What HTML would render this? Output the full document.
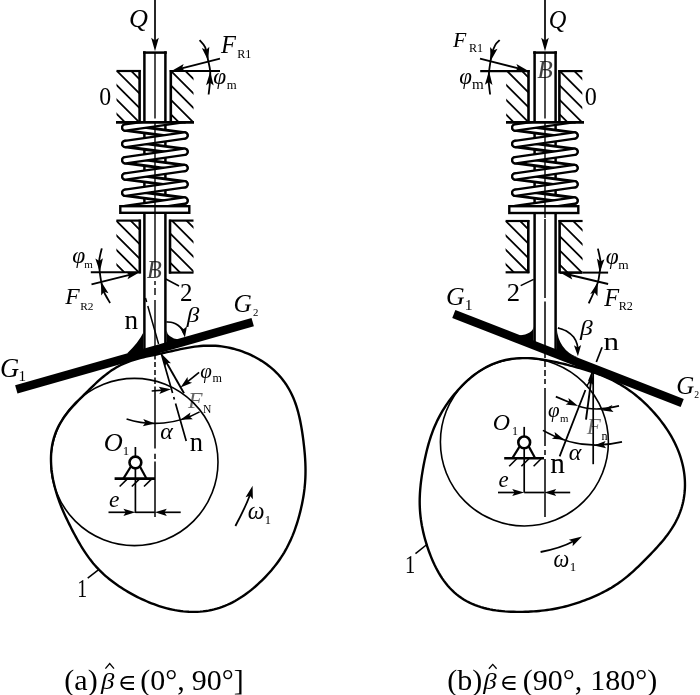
<!DOCTYPE html>
<html><head><meta charset="utf-8"><style>
html,body{margin:0;padding:0;background:#fff;}
svg{display:block;filter:grayscale(1);}
text{font-family:"Liberation Serif",serif;fill:#000;stroke:none;}
</style></head><body>
<svg width="700" height="695" viewBox="0 0 700 695" stroke="#000" fill="none">
<rect x="0" y="0" width="700" height="695" fill="#fff" stroke="none"/>
<line x1="155" y1="0" x2="155" y2="44" stroke-width="1.7"/>
<polygon points="155,51.3 151.2,37.8 155,40.5 158.8,37.8" fill="#000" stroke="none"/>
<text x="128.96" y="27.3" font-size="26.22" font-style="italic">Q</text>
<line x1="144.4" y1="51.3" x2="144.4" y2="349" stroke-width="2.5"/>
<line x1="165.4" y1="51.3" x2="165.4" y2="345" stroke-width="2.5"/>
<line x1="143" y1="52.6" x2="166.8" y2="52.6" stroke-width="2.5"/>
<clipPath id="h1"><rect x="116.5" y="71" width="23.1" height="51"/></clipPath>
<path d="M68.7,66L129.7,127M83.1,66L144.1,127M97.5,66L158.5,127M111.9,66L172.9,127M126.3,66L187.3,127" stroke-width="1.8" clip-path="url(#h1)"/>
<clipPath id="h2"><rect x="170.8" y="71" width="22.7" height="51"/></clipPath>
<path d="M122.6,66L183.6,127M137.05,66L198.05,127M151.5,66L212.5,127M165.95,66L226.95,127M180.4,66L241.4,127" stroke-width="1.8" clip-path="url(#h2)"/>
<line x1="116.5" y1="71" x2="140.8" y2="71" stroke-width="2.2"/>
<line x1="139.6" y1="70" x2="139.6" y2="122" stroke-width="2.6"/>
<line x1="169.8" y1="71" x2="220" y2="71" stroke-width="2.2"/>
<line x1="170.8" y1="70" x2="170.8" y2="122" stroke-width="2.6"/>
<clipPath id="sp0"><rect x="110" y="123" width="90" height="82.5"/></clipPath>
<g clip-path="url(#sp0)">
<path d="M125.3,111.3L184.5,119.1M125.3,127.6L184.5,135.4M125.3,143.9L184.5,151.7M125.3,160.2L184.5,168M125.3,176.5L184.5,184.3M125.3,192.8L184.5,200.6" stroke-width="8.6" stroke-linecap="round"/>
<path d="M125.3,111.3L184.5,119.1M125.3,127.6L184.5,135.4M125.3,143.9L184.5,151.7M125.3,160.2L184.5,168M125.3,176.5L184.5,184.3M125.3,192.8L184.5,200.6" stroke="#fff" stroke-width="2.8" stroke-linecap="round"/>
<path d="M184.5,119.1L125.3,127.6M184.5,135.4L125.3,143.9M184.5,151.7L125.3,160.2M184.5,168L125.3,176.5M184.5,184.3L125.3,192.8M184.5,200.6L125.3,209.1" stroke-width="8.6" stroke-linecap="round"/>
<path d="M184.5,119.1L125.3,127.6M184.5,135.4L125.3,143.9M184.5,151.7L125.3,160.2M184.5,168L125.3,176.5M184.5,184.3L125.3,192.8M184.5,200.6L125.3,209.1" stroke="#fff" stroke-width="4.0" stroke-linecap="round"/>
</g>
<line x1="116" y1="122.3" x2="194" y2="122.3" stroke-width="2.8"/>
<rect x="120.3" y="206.2" width="69" height="6.6" stroke-width="2.4" fill="#fff"/>
<clipPath id="h3"><rect x="116.4" y="220.6" width="23.4" height="52"/></clipPath>
<path d="M67.6,215.6L129.6,277.6M82.1,215.6L144.1,277.6M96.6,215.6L158.6,277.6M111.1,215.6L173.1,277.6M125.6,215.6L187.6,277.6" stroke-width="1.8" clip-path="url(#h3)"/>
<clipPath id="h4"><rect x="170" y="220.6" width="23.5" height="52"/></clipPath>
<path d="M123.1,215.6L185.1,277.6M137.7,215.6L199.7,277.6M152.3,215.6L214.3,277.6M166.9,215.6L228.9,277.6M181.5,215.6L243.5,277.6" stroke-width="1.8" clip-path="url(#h4)"/>
<line x1="116.4" y1="220.6" x2="140.8" y2="220.6" stroke-width="2.2"/>
<line x1="139.8" y1="219.6" x2="139.8" y2="273.6" stroke-width="2.6"/>
<line x1="169" y1="220.6" x2="193.5" y2="220.6" stroke-width="2.2"/>
<line x1="170" y1="219.6" x2="170" y2="273.6" stroke-width="2.6"/>
<line x1="169" y1="272.6" x2="193.5" y2="272.6" stroke-width="2.2"/>
<line x1="155" y1="52" x2="155" y2="118.5" stroke-width="1.4"/>
<line x1="155" y1="123" x2="155" y2="218" stroke-width="1.4"/>
<line x1="155" y1="218" x2="155" y2="277" stroke-width="1.4"/>
<path d="M155,281V285M155,288V295M155,300V346" stroke-width="1.4"/>
<line x1="220" y1="58.7" x2="180.66" y2="68.68" stroke-width="1.9"/>
<polygon points="171.5,71 183.65,64 181.97,68.35 185.52,71.36" fill="#000" stroke="none"/>
<path d="M199.6,40.1 C200.52,41.27 203.68,43.75 205.1,47.1 C206.52,50.45 207.25,56.17 208.1,60.2 C208.95,64.23 209.88,67.67 210.2,71.3 C210.52,74.93 210.27,78.13 210,82 C209.73,85.87 208.83,92.42 208.6,94.5" stroke-width="1.8" fill="none"/>
<polygon points="208.1,60.6 201.85,48.05 206.08,49.99 209.31,46.63" fill="#000" stroke="none"/>
<polygon points="210.2,71.8 213.67,85.39 209.93,82.6 206.07,85.2" fill="#000" stroke="none"/>
<text x="221.12" y="53" font-size="24.43" font-style="italic">F</text>
<text x="237.14" y="58" font-size="12.12">R1</text>
<text x="213.3" y="83.98" font-size="23.36" font-style="italic">φ</text>
<text x="226.74" y="89" font-size="12.77">m</text>
<text transform="translate(99.35,104.55) scale(0.96,1)" font-size="24.89">0</text>
<line x1="90.8" y1="272.3" x2="139.7" y2="272.3" stroke-width="2"/>
<line x1="91.5" y1="284.3" x2="130.53" y2="274.58" stroke-width="1.9"/>
<polygon points="139.7,272.3 127.52,279.25 129.22,274.91 125.68,271.87" fill="#000" stroke="none"/>
<path d="M101.8,248.4 C101.37,250.43 99.53,256.65 99.2,260.6 C98.87,264.55 99.48,268.68 99.8,272.1 C100.12,275.52 100.63,278.37 101.1,281.1 C101.57,283.83 101.92,286.27 102.6,288.5 C103.28,290.73 103.95,292.08 105.2,294.5 C106.45,296.92 109.28,301.58 110.1,303" stroke-width="1.8" fill="none"/>
<polygon points="99.8,271.8 95.35,258.5 99.27,261.01 102.94,258.13" fill="#000" stroke="none"/>
<polygon points="101.1,281.4 108.49,293.32 104.09,291.78 101.19,295.42" fill="#000" stroke="none"/>
<text x="72.19" y="263.25" font-size="23.5" font-style="italic">φ</text>
<text x="84.18" y="268.3" font-size="11.06">m</text>
<text x="65.22" y="304.3" font-size="23.66" font-style="italic">F</text>
<text x="80.16" y="310" font-size="11.36">R2</text>
<g opacity="0.75">
<text x="146.75" y="277.88" font-size="24.7" font-style="italic">B</text>
</g>
<text transform="translate(179.88,300.5) scale(0.97,1)" font-size="25.76">2</text>
<line x1="165.8" y1="279" x2="179" y2="286" stroke-width="1.5"/>
<line x1="16.3" y1="389.3" x2="252.7" y2="322.1" stroke-width="8.6"/>
<path d="M143.2,332.8 Q139,342 127,353.5 L143.2,352 Z" stroke-width="0" fill="#000"/>
<path d="M166.4,330 Q167.5,338 179,339.6 L166.4,346 Z" stroke-width="0" fill="#000"/>
<text transform="translate(124.62,329.3) scale(1,1)" font-size="27.23">n</text>
<text transform="translate(186.78,322.33) scale(1.16,1)" font-size="21.74" font-style="italic">β</text>
<text x="233.6" y="311.75" font-size="25.37" font-style="italic">G</text>
<text x="253.12" y="316.4" font-size="10.76">2</text>
<text x="-0.06" y="376.83" font-size="26.57" font-style="italic">G</text>
<text x="18.44" y="380.7" font-size="15.15">1</text>
<path d="M53.16,480L52.68,477.44L52.25,474.86L51.88,472.25L51.57,469.64L51.32,467L51.13,464.35L51.02,461.69L50.98,459.02L51.03,456.35L51.16,453.68L51.37,451L51.68,448.34L52.09,445.68L52.59,443.04L53.2,440.42L53.91,437.83L54.72,435.27L55.64,432.74L56.66,430.26L57.78,427.81L59,425.41L60.3,423.06L61.7,420.77L63.16,418.52L64.71,416.32L66.31,414.17L67.97,412.07L69.67,410.02L71.41,408.01L73.19,406.03L74.99,404.09L76.8,402.17L78.63,400.28L80.47,398.4L82.31,396.54L84.16,394.69L86.01,392.85L87.86,391.02L89.72,389.19L91.59,387.37L93.47,385.55L95.37,383.75L97.29,381.96L99.24,380.19L101.22,378.45L103.23,376.74L105.28,375.07L107.38,373.44L109.52,371.87L111.7,370.36L113.93,368.92L116.21,367.54L118.53,366.25L120.9,365.03L123.3,363.89L125.75,362.83L128.22,361.85L130.72,360.94L133.25,360.1L135.79,359.32L138.35,358.6L140.92,357.93L143.5,357.3L146.08,356.7L148.67,356.13L151.26,355.57L153.86,355.01L156.46,354.46L159.07,353.91L161.69,353.35L164.32,352.77L166.96,352.19L169.62,351.6L172.3,351L175,350.4L177.73,349.8L180.48,349.2L183.27,348.63L186.08,348.08L188.92,347.57L191.79,347.09L194.69,346.67L197.61,346.32L200.56,346.02L203.52,345.81L206.51,345.68L209.5,345.63L212.5,345.68L215.51,345.82L218.52,346.06L221.53,346.39L224.53,346.83L227.52,347.36L230.49,347.99L233.45,348.71L236.4,349.53L239.32,350.43L242.21,351.43L245.08,352.52L247.92,353.69L250.73,354.95L253.5,356.3L256.23,357.73L258.92,359.25L261.56,360.86L264.15,362.55L266.68,364.32L269.15,366.19L271.55,368.14L273.88,370.19L276.12,372.32L278.28,374.53L280.35,376.83L282.33,379.21L284.2,381.67L285.98,384.21L287.65,386.81L289.22,389.47L290.68,392.2L292.03,394.97L293.29,397.79L294.45,400.64L295.51,403.52L296.49,406.43L297.38,409.35L298.19,412.28L298.93,415.21L299.61,418.14L300.23,421.07L300.8,423.99L301.33,426.9L301.82,429.79L302.27,432.67L302.69,435.53L303.08,438.38L303.44,441.22L303.78,444.04L304.1,446.85L304.38,449.65L304.64,452.44L304.88,455.22L305.08,458L305.24,460.77L305.37,463.53L305.46,466.29L305.51,469.04L305.51,471.79L305.47,474.53L305.39,477.27L305.25,480L305.07,482.72L304.83,485.44L304.56,488.15L304.23,490.85L303.86,493.54L303.45,496.23L303,498.9L302.5,501.57L301.97,504.22L301.4,506.87L300.79,509.5L300.15,512.13L299.47,514.75L298.76,517.37L298.01,519.97L297.22,522.56L296.4,525.15L295.53,527.72L294.62,530.28L293.66,532.83L292.66,535.37L291.6,537.88L290.5,540.38L289.34,542.86L288.13,545.32L286.87,547.75L285.54,550.15L284.17,552.53L282.74,554.88L281.25,557.2L279.71,559.48L278.12,561.73L276.48,563.95L274.79,566.14L273.06,568.29L271.28,570.42L269.46,572.5L267.6,574.56L265.7,576.59L263.76,578.58L261.78,580.54L259.77,582.47L257.72,584.36L255.63,586.23L253.5,588.05L251.34,589.84L249.13,591.58L246.89,593.28L244.6,594.93L242.28,596.53L239.91,598.07L237.5,599.55L235.05,600.97L232.55,602.31L230.02,603.58L227.45,604.77L224.84,605.87L222.19,606.89L219.51,607.82L216.8,608.66L214.07,609.4L211.31,610.05L208.53,610.6L205.74,611.05L202.93,611.41L200.12,611.67L197.3,611.84L194.48,611.91L191.66,611.9L188.85,611.81L186.05,611.63L183.26,611.37L180.49,611.03L177.74,610.62L175,610.15L172.29,609.6L169.59,609L166.93,608.33L164.28,607.61L161.67,606.84L159.08,606.02L156.52,605.15L153.99,604.24L151.48,603.28L149.01,602.29L146.56,601.26L144.14,600.19L141.75,599.09L139.39,597.96L137.05,596.8L134.74,595.61L132.46,594.39L130.21,593.14L127.98,591.86L125.78,590.55L123.61,589.22L121.46,587.85L119.34,586.46L117.26,585.04L115.2,583.58L113.17,582.09L111.17,580.57L109.21,579.02L107.29,577.43L105.4,575.8L103.54,574.14L101.73,572.44L99.96,570.71L98.23,568.94L96.54,567.13L94.9,565.3L93.3,563.43L91.75,561.52L90.24,559.6L88.77,557.64L87.35,555.66L85.96,553.66L84.61,551.64L83.3,549.61L82.01,547.56L80.76,545.5L79.54,543.42L78.34,541.34L77.16,539.25L76,537.15L74.86,535.05L73.74,532.94L72.62,530.82L71.52,528.69L70.44,526.56L69.36,524.41L68.29,522.25L67.24,520.07L66.2,517.89L65.18,515.68L64.18,513.46L63.19,511.22L62.23,508.96L61.29,506.67L60.37,504.36L59.49,502.04L58.63,499.68L57.81,497.3L57.03,494.9L56.28,492.48L55.57,490.03L54.9,487.56L54.28,485.06L53.7,482.54Z" stroke-width="2.4" fill="none"/>
<circle cx="134.4" cy="462" r="83.6" stroke-width="1.6" fill="none"/>
<path d="M166.4,321.9 C167.5,322.03 171.07,322.15 173,322.7 C174.93,323.25 176.45,324.07 178,325.2 C179.55,326.33 181.27,328.03 182.3,329.5 C183.33,330.97 183.88,333.25 184.2,334" stroke-width="1.7" fill="none"/>
<polygon points="184.9,337.6 179.86,327.18 183.72,328.88 186.99,326.22" fill="#000" stroke="none"/>
<path d="M145.5,298L146.64,302M147.78,306L158.6,344" stroke-width="1.5"/>
<path d="M161.44,354L172.55,393M173.69,397L174.4,399.5M175.54,403.5L186.21,441" stroke-width="1.7"/>
<line x1="184" y1="393.2" x2="166.01" y2="361.7" stroke-width="1.9"/>
<polygon points="161.5,353.8 170.99,363.35 166.66,362.83 164.91,366.82" fill="#000" stroke="none"/>
<line x1="151.7" y1="391" x2="162.63" y2="390.04" stroke-width="1.7"/>
<polygon points="171,389.3 159.36,393.94 161.44,390.14 158.73,386.77" fill="#000" stroke="none"/>
<line x1="199.1" y1="372.3" x2="187" y2="382.18" stroke-width="1.7"/>
<polygon points="180.5,387.5 187.51,377.12 187.93,381.43 192.07,382.69" fill="#000" stroke="none"/>
<path d="M126.57,418.9 A92,92 0 0 0 199.6,411.87" stroke-width="1.6" fill="none"/>
<polygon points="155,423.4 142.79,426.21 145.42,422.77 143.26,419.03" fill="#000" stroke="none"/>
<polygon points="180.36,419.84 190.44,412.4 189.39,416.59 192.87,419.17" fill="#000" stroke="none"/>
<text x="200.37" y="377.88" font-size="21.02" font-style="italic">φ</text>
<text x="212.46" y="382.4" font-size="12.13">m</text>
<g opacity="0.6">
<text x="187.92" y="407.6" font-size="23.82" font-style="italic">F</text>
</g>
<text x="202.95" y="413" font-size="11.6">N</text>
<text x="160.28" y="438.96" font-size="23.96" font-style="italic">α</text>
<text transform="translate(189.64,450.5) scale(0.96,1)" font-size="27.66">n</text>
<path d="M155,355.5V359.5M155,362V367M155,370V375M155,377.5V384" stroke-width="1.5"/>
<line x1="155" y1="386.5" x2="155" y2="448.5" stroke-width="1.5"/>
<path d="M155,453.7V459" stroke-width="1.5"/>
<line x1="155" y1="461.4" x2="155" y2="517" stroke-width="1.5"/>
<line x1="135.4" y1="447" x2="135.4" y2="456.5" stroke-width="1.7"/>
<line x1="135.4" y1="468.5" x2="135.4" y2="478.6" stroke-width="1.7"/>
<polyline points="130.9,466.5 123.4,478.6" stroke-width="2.2" fill="none"/>
<polyline points="139.9,466.5 146.4,478.6" stroke-width="2.2" fill="none"/>
<circle cx="135.4" cy="462.5" r="5.9" stroke-width="2.6" fill="#fff"/>
<line x1="114.6" y1="478.6" x2="155" y2="478.6" stroke-width="2.6"/>
<line x1="119.6" y1="486.5" x2="127.1" y2="479.1" stroke-width="1.6"/>
<line x1="131.8" y1="486.5" x2="139.3" y2="479.1" stroke-width="1.6"/>
<line x1="144" y1="486.5" x2="151.5" y2="479.1" stroke-width="1.6"/>
<line x1="135.4" y1="478.6" x2="135.4" y2="513" stroke-width="1.7"/>
<line x1="108.5" y1="512.3" x2="127" y2="512.3" stroke-width="1.7"/>
<polygon points="135.4,512.3 123.4,515.9 125.8,512.3 123.4,508.7" fill="#000" stroke="none"/>
<line x1="180.7" y1="512.3" x2="163.2" y2="512.3" stroke-width="1.7"/>
<polygon points="154.8,512.3 166.8,508.7 164.4,512.3 166.8,515.9" fill="#000" stroke="none"/>
<line x1="135.4" y1="512.3" x2="154.8" y2="512.3" stroke-width="1.7"/>
<text x="108.99" y="507.06" font-size="23.54" font-style="italic">e</text>
<text transform="translate(103.78,450.55) scale(1.04,1)" font-size="25.37" font-style="italic">O</text>
<text x="122.64" y="455" font-size="12.88">1</text>
<path d="M235.4,526 Q246,506 249.9,495" stroke-width="1.8" fill="none"/>
<polygon points="252.6,485.8 252.87,499.34 249.88,495.84 245.53,497.35" fill="#000" stroke="none"/>
<text transform="translate(247.87,519.05) scale(0.96,1)" font-size="24.79" font-style="italic">ω</text>
<text x="264.87" y="523.8" font-size="12.58">1</text>
<text transform="translate(77.13,596.8) scale(0.78,1)" font-size="25.3">1</text>
<line x1="87.7" y1="578.2" x2="98.7" y2="569.6" stroke-width="1.5"/>
<line x1="545" y1="0" x2="545" y2="44" stroke-width="1.7"/>
<polygon points="545,51.3 541.2,37.8 545,40.5 548.8,37.8" fill="#000" stroke="none"/>
<text x="548.66" y="27.5" font-size="24.39" font-style="italic">Q</text>
<line x1="534.6" y1="51.3" x2="534.6" y2="345" stroke-width="2.5"/>
<line x1="555.6" y1="51.3" x2="555.6" y2="352" stroke-width="2.5"/>
<line x1="533.2" y1="52.6" x2="557" y2="52.6" stroke-width="2.5"/>
<clipPath id="h5"><rect x="506.2" y="71" width="22.3" height="51"/></clipPath>
<path d="M457.4,66L518.4,127M472.3,66L533.3,127M487.2,66L548.2,127M502.1,66L563.1,127M517,66L578,127" stroke-width="1.8" clip-path="url(#h5)"/>
<clipPath id="h6"><rect x="559.4" y="71" width="22.9" height="51"/></clipPath>
<path d="M511.3,66L572.3,127M525.8,66L586.8,127M540.3,66L601.3,127M554.8,66L615.8,127M569.3,66L630.3,127" stroke-width="1.8" clip-path="url(#h6)"/>
<line x1="480.2" y1="71.1" x2="529.6" y2="71.1" stroke-width="2.2"/>
<line x1="528.5" y1="70" x2="528.5" y2="122" stroke-width="2.6"/>
<line x1="558.4" y1="71.1" x2="582.5" y2="71.1" stroke-width="2.2"/>
<line x1="559.4" y1="70" x2="559.4" y2="122" stroke-width="2.6"/>
<clipPath id="sp390"><rect x="500" y="123" width="90" height="82.5"/></clipPath>
<g clip-path="url(#sp390)">
<path d="M515.3,111.3L574.5,119.1M515.3,127.6L574.5,135.4M515.3,143.9L574.5,151.7M515.3,160.2L574.5,168M515.3,176.5L574.5,184.3M515.3,192.8L574.5,200.6" stroke-width="8.6" stroke-linecap="round"/>
<path d="M515.3,111.3L574.5,119.1M515.3,127.6L574.5,135.4M515.3,143.9L574.5,151.7M515.3,160.2L574.5,168M515.3,176.5L574.5,184.3M515.3,192.8L574.5,200.6" stroke="#fff" stroke-width="2.8" stroke-linecap="round"/>
<path d="M574.5,119.1L515.3,127.6M574.5,135.4L515.3,143.9M574.5,151.7L515.3,160.2M574.5,168L515.3,176.5M574.5,184.3L515.3,192.8M574.5,200.6L515.3,209.1" stroke-width="8.6" stroke-linecap="round"/>
<path d="M574.5,119.1L515.3,127.6M574.5,135.4L515.3,143.9M574.5,151.7L515.3,160.2M574.5,168L515.3,176.5M574.5,184.3L515.3,192.8M574.5,200.6L515.3,209.1" stroke="#fff" stroke-width="4.0" stroke-linecap="round"/>
</g>
<line x1="506" y1="122.3" x2="584" y2="122.3" stroke-width="2.8"/>
<rect x="509.3" y="206.2" width="69" height="6.8" stroke-width="2.4" fill="#fff"/>
<clipPath id="h7"><rect x="505.6" y="221" width="22.6" height="51.3"/></clipPath>
<path d="M457.5,216L518.8,277.3M471.9,216L533.2,277.3M486.3,216L547.6,277.3M500.7,216L562,277.3M515.1,216L576.4,277.3" stroke-width="1.8" clip-path="url(#h7)"/>
<clipPath id="h8"><rect x="559.6" y="221" width="23" height="51.3"/></clipPath>
<path d="M511,216L572.3,277.3M525.3,216L586.6,277.3M539.6,216L600.9,277.3M553.9,216L615.2,277.3M568.2,216L629.5,277.3" stroke-width="1.8" clip-path="url(#h8)"/>
<line x1="505.6" y1="221" x2="529.3" y2="221" stroke-width="2.2"/>
<line x1="528.3" y1="220" x2="528.3" y2="273.2" stroke-width="2.6"/>
<line x1="505.6" y1="272.3" x2="529.3" y2="272.3" stroke-width="2.2"/>
<line x1="558.6" y1="221" x2="582.6" y2="221" stroke-width="2.2"/>
<line x1="559.6" y1="220" x2="559.6" y2="273.4" stroke-width="2.6"/>
<line x1="559.6" y1="272.6" x2="582.4" y2="272.6" stroke-width="2.6"/>
<line x1="582.4" y1="272.6" x2="608.1" y2="272.6" stroke-width="2"/>
<line x1="608.1" y1="284" x2="569.2" y2="274.78" stroke-width="1.9"/>
<polygon points="560,272.6 574.01,272.02 570.51,275.09 572.26,279.41" fill="#000" stroke="none"/>
<path d="M597.9,248.6 C598.37,250.98 600.42,258.9 600.7,262.9 C600.98,266.9 600.07,269.37 599.6,272.6 C599.13,275.83 598.92,278.9 597.9,282.3 C596.88,285.7 595.03,289.48 593.5,293 C591.97,296.52 589.5,301.67 588.7,303.4" stroke-width="1.8" fill="none"/>
<polygon points="599.6,272.3 596.91,258.54 600.48,261.54 604.48,259.15" fill="#000" stroke="none"/>
<polygon points="597.9,282.3 597.45,296.32 594.64,292.6 590.21,294.03" fill="#000" stroke="none"/>
<line x1="545" y1="52" x2="545" y2="118.5" stroke-width="1.4"/>
<line x1="545" y1="123" x2="545" y2="218" stroke-width="1.4"/>
<path d="M545,219V298M545,301.5V346M545,352V358M545,361V367M545,370V376M545,379V384" stroke-width="1.5"/>
<line x1="480" y1="58.6" x2="519.44" y2="68.58" stroke-width="1.9"/>
<polygon points="528.6,70.9 514.58,71.27 518.13,68.25 516.44,63.9" fill="#000" stroke="none"/>
<path d="M499.7,40.1 C498.95,40.93 496.53,42.75 495.2,45.1 C493.87,47.45 492.47,51.6 491.7,54.2 C490.93,56.8 491.03,57.85 490.6,60.7 C490.17,63.55 489.43,68.02 489.1,71.3 C488.77,74.58 488.43,76.53 488.6,80.4 C488.77,84.27 489.85,92.15 490.1,94.5" stroke-width="1.8" fill="none"/>
<polygon points="490.6,60.9 490.1,46.88 493.16,50.41 497.49,48.68" fill="#000" stroke="none"/>
<polygon points="489.1,71.3 492.46,84.92 488.75,82.09 484.86,84.67" fill="#000" stroke="none"/>
<text x="453.01" y="47.1" font-size="21.68" font-style="italic">F</text>
<text x="469.04" y="52.3" font-size="12.12">R1</text>
<text x="459.31" y="83.67" font-size="22.92" font-style="italic">φ</text>
<text x="472" y="89.1" font-size="15.11">m</text>
<g opacity="0.75">
<text x="537.25" y="78.17" font-size="25.45" font-style="italic">B</text>
</g>
<text transform="translate(584.84,104.55) scale(0.97,1)" font-size="24.89">0</text>
<text x="605.7" y="263.58" font-size="23.36" font-style="italic">φ</text>
<text x="618.13" y="268.6" font-size="13.4">m</text>
<text x="604.22" y="305.7" font-size="24.43" font-style="italic">F</text>
<text x="618.64" y="310.3" font-size="12.12">R2</text>
<text transform="translate(506.7,300.7) scale(1.05,1)" font-size="25.45">2</text>
<line x1="520.7" y1="285.7" x2="533.6" y2="279.3" stroke-width="1.5"/>
<line x1="453.8" y1="313.9" x2="682.2" y2="403" stroke-width="8.6"/>
<path d="M533.5,326.5 Q533,334 519,335.5 L533.5,342 Z" stroke-width="0" fill="#000"/>
<path d="M556.6,327 Q558,350 578,357.6 L556.6,352 Z" stroke-width="0" fill="#000"/>
<text x="445.98" y="304.74" font-size="25.82" font-style="italic">G</text>
<text x="464.8" y="309.6" font-size="15.61">1</text>
<text x="676.13" y="393.75" font-size="24.93" font-style="italic">G</text>
<text x="694.36" y="397.8" font-size="9.7">2</text>
<text transform="translate(579.98,334.9) scale(1.17,1)" font-size="21.85" font-style="italic">β</text>
<text transform="translate(603.52,350.4) scale(1.24,1)" font-size="25.11">n</text>
<path d="M557.9,327.9 C559.43,328.48 564.48,329.87 567.1,331.4 C569.72,332.93 571.93,334.95 573.6,337.1 C575.27,339.25 576.42,342.15 577.1,344.3 C577.78,346.45 577.6,349.05 577.7,350" stroke-width="1.7" fill="none"/>
<polygon points="577.9,356.2 573.93,345.33 577.6,347.41 581.12,345.08" fill="#000" stroke="none"/>
<path d="M420.63,485L420.95,482.19L421.31,479.4L421.7,476.61L422.13,473.84L422.58,471.08L423.05,468.33L423.56,465.59L424.08,462.86L424.63,460.13L425.21,457.41L425.82,454.7L426.45,451.99L427.12,449.3L427.82,446.6L428.56,443.92L429.34,441.24L430.17,438.58L431.04,435.92L431.97,433.28L432.94,430.66L433.97,428.05L435.06,425.46L436.21,422.9L437.41,420.36L438.68,417.84L440,415.35L441.37,412.89L442.81,410.46L444.3,408.06L445.84,405.69L447.43,403.35L449.08,401.05L450.77,398.78L452.51,396.54L454.3,394.33L456.14,392.16L458.02,390.03L459.95,387.94L461.92,385.88L463.94,383.87L466.01,381.9L468.12,379.98L470.28,378.12L472.5,376.31L474.76,374.56L477.07,372.88L479.43,371.26L481.85,369.73L484.31,368.27L486.82,366.91L489.37,365.63L491.97,364.44L494.62,363.36L497.29,362.37L500.01,361.49L502.75,360.71L505.52,360.03L508.31,359.46L511.12,358.99L513.94,358.62L516.76,358.35L519.59,358.18L522.42,358.09L525.23,358.09L528.04,358.16L530.83,358.31L533.61,358.53L536.37,358.81L539.1,359.14L541.81,359.52L544.5,359.94L547.16,360.4L549.8,360.89L552.41,361.41L555,361.95L557.57,362.52L560.11,363.1L562.63,363.69L565.14,364.29L567.62,364.91L570.09,365.54L572.55,366.18L574.99,366.83L577.42,367.49L579.83,368.17L582.24,368.86L584.64,369.57L587.03,370.29L589.4,371.05L591.77,371.82L594.13,372.62L596.48,373.46L598.82,374.32L601.15,375.22L603.46,376.15L605.76,377.12L608.05,378.14L610.32,379.19L612.57,380.29L614.8,381.43L617.01,382.61L619.2,383.84L621.36,385.12L623.5,386.43L625.62,387.8L627.71,389.2L629.78,390.65L631.82,392.14L633.83,393.67L635.82,395.24L637.78,396.85L639.71,398.5L641.62,400.18L643.5,401.9L645.35,403.65L647.18,405.43L648.98,407.25L650.76,409.1L652.51,410.98L654.24,412.9L655.94,414.85L657.61,416.82L659.26,418.84L660.87,420.88L662.45,422.96L664,425.07L665.52,427.22L667,429.4L668.44,431.62L669.83,433.87L671.19,436.16L672.49,438.48L673.74,440.84L674.95,443.23L676.09,445.65L677.18,448.11L678.21,450.6L679.17,453.12L680.07,455.67L680.9,458.24L681.65,460.84L682.34,463.46L682.95,466.11L683.49,468.77L683.94,471.45L684.32,474.14L684.61,476.85L684.82,479.56L684.94,482.28L684.98,485L684.92,487.72L684.78,490.44L684.54,493.15L684.21,495.85L683.79,498.54L683.28,501.21L682.67,503.85L681.97,506.48L681.18,509.07L680.3,511.63L679.33,514.16L678.27,516.65L677.14,519.1L675.93,521.51L674.64,523.87L673.29,526.19L671.87,528.47L670.4,530.69L668.88,532.87L667.32,535.01L665.72,537.1L664.08,539.15L662.42,541.16L660.74,543.13L659.04,545.07L657.33,546.97L655.61,548.85L653.89,550.7L652.17,552.53L650.44,554.34L648.71,556.13L646.98,557.9L645.25,559.66L643.52,561.41L641.78,563.14L640.03,564.85L638.28,566.55L636.51,568.23L634.73,569.9L632.93,571.55L631.11,573.17L629.26,574.77L627.39,576.34L625.5,577.88L623.58,579.39L621.63,580.86L619.65,582.3L617.64,583.7L615.6,585.06L613.53,586.38L611.44,587.67L609.32,588.91L607.18,590.12L605.02,591.29L602.83,592.42L600.62,593.52L598.39,594.58L596.14,595.62L593.87,596.62L591.58,597.6L589.28,598.54L586.96,599.46L584.62,600.35L582.26,601.22L579.88,602.06L577.49,602.87L575.07,603.65L572.63,604.41L570.18,605.13L567.7,605.82L565.2,606.47L562.68,607.09L560.14,607.68L557.58,608.22L555,608.73L552.4,609.2L549.78,609.62L547.13,610.01L544.47,610.36L541.79,610.68L539.09,610.95L536.37,611.19L533.62,611.39L530.86,611.56L528.07,611.69L525.26,611.79L522.43,611.85L519.57,611.88L516.7,611.87L513.79,611.82L510.87,611.72L507.92,611.58L504.96,611.39L501.98,611.13L498.98,610.81L495.98,610.42L492.97,609.96L489.96,609.41L486.96,608.76L483.97,608.02L481.01,607.18L478.07,606.22L475.17,605.16L472.31,603.97L469.51,602.66L466.77,601.24L464.1,599.69L461.5,598.02L458.99,596.23L456.56,594.33L454.22,592.32L451.97,590.21L449.83,587.99L447.77,585.69L445.82,583.31L443.96,580.85L442.19,578.33L440.51,575.74L438.92,573.11L437.41,570.43L435.98,567.72L434.62,564.98L433.34,562.21L432.12,559.42L430.96,556.62L429.86,553.8L428.81,550.97L427.82,548.13L426.88,545.29L426,542.44L425.16,539.58L424.38,536.71L423.66,533.85L422.99,530.97L422.38,528.09L421.82,525.21L421.33,522.32L420.9,519.43L420.54,516.54L420.24,513.64L420,510.75L419.84,507.86L419.73,504.97L419.69,502.09L419.71,499.22L419.79,496.35L419.93,493.5L420.12,490.65L420.35,487.82Z" stroke-width="2.4" fill="none"/>
<circle cx="524.4" cy="442" r="84" stroke-width="1.6" fill="none"/>
<path d="M602.09,347.2L596.33,362" stroke-width="1.7"/>
<path d="M592.44,372L588.94,381M587.78,384L587,386M585.44,390L559.65,456.3" stroke-width="1.8"/>
<line x1="593.2" y1="373" x2="593.2" y2="464.2" stroke-width="1.7"/>
<line x1="586" y1="419.6" x2="591.01" y2="381.52" stroke-width="1.9"/>
<polygon points="592.2,372.5 593.97,385.85 590.84,382.81 587.03,384.93" fill="#000" stroke="none"/>
<line x1="555.8" y1="396.6" x2="570.35" y2="402.67" stroke-width="1.7"/>
<polygon points="578.1,405.9 565.64,404.6 569.24,402.2 568.41,397.96" fill="#000" stroke="none"/>
<path d="M578,406 Q595,412 619,405.9" stroke-width="1.6" fill="none"/>
<polygon points="601.1,410.3 612.4,404.89 610.59,408.82 613.51,412.01" fill="#000" stroke="none"/>
<path d="M542.9,430.4 Q580,452 622,441.9" stroke-width="1.6" fill="none"/>
<polygon points="564.4,439.7 551.92,438.63 555.47,436.17 554.57,431.94" fill="#000" stroke="none"/>
<polygon points="593.9,445.5 605.58,440.98 603.47,444.75 606.14,448.16" fill="#000" stroke="none"/>
<text x="547.97" y="417.28" font-size="21.02" font-style="italic">φ</text>
<text x="559.88" y="421.8" font-size="10.85">m</text>
<g opacity="0.55">
<text x="586.82" y="434" font-size="23.05" font-style="italic">F</text>
</g>
<text x="601.5" y="439.7" font-size="12.13">n</text>
<text x="568.78" y="459.56" font-size="23.96" font-style="italic">α</text>
<text transform="translate(550.27,472.5) scale(1.02,1)" font-size="28.72">n</text>
<path d="M545,388V446M545,450V455M545,459V517" stroke-width="1.5"/>
<line x1="524.2" y1="426.9" x2="524.2" y2="436.4" stroke-width="1.7"/>
<line x1="524.2" y1="448.4" x2="524.2" y2="458.3" stroke-width="1.7"/>
<polyline points="519.7,446.4 512.2,458.3" stroke-width="2.2" fill="none"/>
<polyline points="528.7,446.4 535.2,458.3" stroke-width="2.2" fill="none"/>
<circle cx="524.2" cy="442.4" r="5.9" stroke-width="2.6" fill="#fff"/>
<line x1="504.2" y1="458.3" x2="544" y2="458.3" stroke-width="2.6"/>
<line x1="509.2" y1="466.2" x2="516.7" y2="458.8" stroke-width="1.6"/>
<line x1="521.4" y1="466.2" x2="528.9" y2="458.8" stroke-width="1.6"/>
<line x1="533.6" y1="466.2" x2="541.1" y2="458.8" stroke-width="1.6"/>
<line x1="524.2" y1="458.3" x2="524.2" y2="492.5" stroke-width="1.7"/>
<line x1="498" y1="492.5" x2="515.8" y2="492.5" stroke-width="1.7"/>
<polygon points="524.2,492.5 512.2,496.1 514.6,492.5 512.2,488.9" fill="#000" stroke="none"/>
<line x1="570.2" y1="492.5" x2="552.6" y2="492.5" stroke-width="1.7"/>
<polygon points="544.2,492.5 556.2,488.9 553.8,492.5 556.2,496.1" fill="#000" stroke="none"/>
<line x1="524.2" y1="492.5" x2="544.2" y2="492.5" stroke-width="1.7"/>
<text x="498.61" y="487.37" font-size="22.92" font-style="italic">e</text>
<text x="492.81" y="430.26" font-size="23.88" font-style="italic">O</text>
<text x="511.91" y="435" font-size="12.12">1</text>
<path d="M540.6,552 Q561,548 573,541.5" stroke-width="1.8" fill="none"/>
<polygon points="582,536.5 572.6,546.25 572.97,541.66 568.83,539.65" fill="#000" stroke="none"/>
<text transform="translate(553.52,566.64) scale(0.85,1)" font-size="26.25" font-style="italic">ω</text>
<text x="569.83" y="570.9" font-size="13.03">1</text>
<text transform="translate(405.05,572.8) scale(0.8,1)" font-size="25.61">1</text>
<line x1="415.5" y1="553.7" x2="427.5" y2="544" stroke-width="1.5"/>
<text x="64.35" y="690" font-size="30">(a)</text>
<text transform="translate(101.1,689.31) scale(1.11,1)" font-size="24.13" font-style="italic">β</text>
<path d="M105.4,668.6 L109.7,663.6 L114,668.6" stroke-width="1.3" fill="none"/>
<path d="M134,676.9 H127.25 A6.05,6.05 0 0 0 127.25,689 H134 M121.2,682.95 H134" stroke-width="1.8" fill="none"/>
<text x="140.25" y="690" font-size="30">(0°,</text>
<text x="191.8" y="690" font-size="30">90°]</text>
<text x="447.25" y="690" font-size="30">(b)</text>
<text transform="translate(483.3,689.31) scale(1.11,1)" font-size="24.13" font-style="italic">β</text>
<path d="M488.9,668.7 L492.75,664.4 L496.6,668.7" stroke-width="1.3" fill="none"/>
<path d="M515.5,676.9 H509.05 A6.05,6.05 0 0 0 509.05,689 H515.5 M503,682.95 H515.5" stroke-width="1.8" fill="none"/>
<text x="522.65" y="690" font-size="30">(90°,</text>
<text x="590.3" y="690" font-size="30">180°)</text>
</svg></body></html>
